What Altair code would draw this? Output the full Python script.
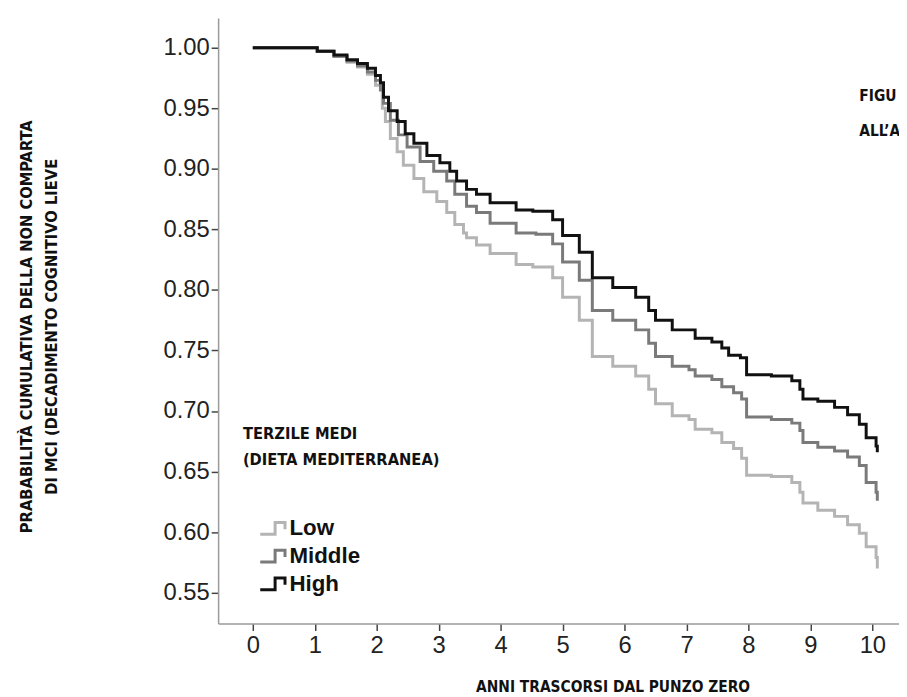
import altair as alt
import pandas as pd

# ---------------- data ----------------
groups = ["Low", "Middle", "High"]
colors = ["#b4b4b4", "#7a7a7a", "#111111"]
widths = [3, 3, 4]

high_t = [0, 0.99, 1.04, 1.31, 1.52, 1.69, 1.85, 1.98, 2.06, 2.11, 2.19, 2.33, 2.46, 2.60, 2.81,
          3.02, 3.18, 3.29, 3.45, 3.61, 3.83, 4.25, 4.52, 4.84, 5.00, 5.27, 5.48, 5.81, 6.18,
          6.39, 6.50, 6.77, 7.04, 7.14, 7.41, 7.57, 7.68, 7.87, 7.97, 8.37, 8.70, 8.83, 8.88,
          9.12, 9.39, 9.60, 9.79, 9.90, 10.06, 10.08]
high_v = [1.000, 1.000, 0.997, 0.994, 0.990, 0.987, 0.983, 0.977, 0.971, 0.959, 0.948, 0.939, 0.929,
          0.921, 0.911, 0.905, 0.898, 0.890, 0.883, 0.879, 0.872, 0.866, 0.865, 0.858, 0.845,
          0.831, 0.810, 0.802, 0.794, 0.783, 0.775, 0.767, 0.767, 0.760, 0.757, 0.752, 0.746,
          0.744, 0.730, 0.729, 0.725, 0.718, 0.710, 0.708, 0.703, 0.697, 0.689, 0.678, 0.671,
          0.666]

mid_t = [0, 0.99, 1.04, 1.31, 1.52, 1.69, 1.85, 1.98, 2.06, 2.11, 2.22, 2.35, 2.49, 2.70, 2.92,
         3.13, 3.26, 3.45, 3.61, 3.83, 4.25, 4.57, 4.84, 5.00, 5.27, 5.48, 5.81, 6.18, 6.39,
         6.50, 6.77, 7.04, 7.14, 7.41, 7.57, 7.76, 7.89, 7.97, 8.37, 8.70, 8.83, 8.88, 9.12,
         9.39, 9.60, 9.79, 9.90, 10.06, 10.08]
mid_v = [1.000, 1.000, 0.997, 0.993, 0.989, 0.985, 0.980, 0.973, 0.965, 0.954, 0.940, 0.928, 0.918,
         0.906, 0.898, 0.890, 0.879, 0.869, 0.864, 0.855, 0.847, 0.846, 0.838, 0.823, 0.808,
         0.783, 0.775, 0.767, 0.756, 0.745, 0.737, 0.734, 0.729, 0.726, 0.720, 0.715, 0.710,
         0.695, 0.693, 0.690, 0.684, 0.674, 0.670, 0.667, 0.662, 0.655, 0.641, 0.633, 0.626]

low_t = [0, 0.99, 1.04, 1.31, 1.52, 1.69, 1.85, 1.98, 2.09, 2.14, 2.22, 2.33, 2.43, 2.60, 2.76,
         2.97, 3.13, 3.26, 3.40, 3.45, 3.61, 3.83, 4.25, 4.52, 4.84, 5.00, 5.27, 5.48, 5.81,
         6.18, 6.39, 6.50, 6.77, 7.04, 7.14, 7.41, 7.57, 7.76, 7.89, 7.97, 8.37, 8.70, 8.83,
         8.88, 9.12, 9.39, 9.60, 9.79, 9.90, 10.06, 10.08]
low_v = [1.000, 1.000, 0.997, 0.993, 0.988, 0.984, 0.978, 0.969, 0.950, 0.939, 0.925, 0.914, 0.903,
         0.892, 0.881, 0.873, 0.864, 0.854, 0.847, 0.843, 0.837, 0.830, 0.821, 0.819, 0.810,
         0.794, 0.775, 0.745, 0.737, 0.729, 0.718, 0.706, 0.696, 0.693, 0.685, 0.682, 0.674,
         0.669, 0.661, 0.647, 0.646, 0.641, 0.633, 0.624, 0.618, 0.613, 0.606, 0.599, 0.588,
         0.579, 0.570]

x_ticks = [0, 1, 2, 3, 4, 5, 6, 7, 8, 9, 10]
y_ticks = [0.55, 0.60, 0.65, 0.70, 0.75, 0.80, 0.85, 0.90, 0.95, 1.00]

x_title = "ANNI TRASCORSI DAL PUNZO ZERO"
y_title = ["PRABABILITÀ CUMULATIVA DELLA NON COMPARTA", "DI MCI (DECADIMENTO COGNITIVO LIEVE"]
note_lines = ["TERZILE MEDI", "(DIETA MEDITERRANEA)"]
corner_lines = ["FIGU", "ALL’A"]

# ---------------- table ----------------
rows = []
for g, ts, vs in [("Low", low_t, low_v), ("Middle", mid_t, mid_v), ("High", high_t, high_v)]:
    for t, v in zip(ts, vs):
        rows.append({"group": g, "t": t, "v": v})
df = pd.DataFrame(rows)

COND = "Liberation Sans Narrow, DejaVu Sans Condensed, sans-serif"
SANS = "Liberation Sans, Arial, sans-serif"

x_enc = alt.X(
    "t:Q",
    scale=alt.Scale(domain=[-0.56, 10.43], nice=False, zero=False),
    axis=alt.Axis(
        values=x_ticks, format="d", grid=False,
        title=x_title, titleFont=COND, titleFontSize=15.5, titleFontWeight="bold",
        titleColor="#111", titleX=398, titleY=69, titleAlign="center",
        titleBaseline="alphabetic",
        labelFont=SANS, labelFontSize=24, labelColor="#222", labelPadding=3,
        tickSize=7, tickColor="#444", tickWidth=1.5,
        domainColor="#9a9a9a", domainWidth=1.5,
    ),
)
y_enc = alt.Y(
    "v:Q",
    scale=alt.Scale(domain=[0.5245, 1.0245], nice=False, zero=False),
    axis=alt.Axis(
        values=y_ticks, format=".2f", grid=False,
        title=y_title, titleFont=COND, titleFontSize=16.5, titleFontWeight="bold",
        titleColor="#111", titleAngle=270, titleX=-188, titleY=311,
        titleAlign="center", titleBaseline="alphabetic", titleLineHeight=25,
        labelFont=SANS, labelFontSize=24, labelColor="#222", labelPadding=2,
        tickSize=7, tickColor="#444", tickWidth=1.5,
        domainColor="#9a9a9a", domainWidth=1.5,
    ),
)

lines = alt.Chart(df).mark_line(interpolate="step-after", clip=True).encode(
    x=x_enc,
    y=y_enc,
    color=alt.Color(
        "group:N",
        scale=alt.Scale(domain=groups, range=colors),
        legend=alt.Legend(
            orient="none", legendX=41, legendY=501, title=None, padding=0,
            symbolType="M-1,0.47H0.2V-0.47H1V0.07", symbolSize=625,
            symbolStrokeWidth=3, symbolFillColor="transparent",
            labelFont=SANS, labelFontSize=22.5, labelFontWeight="bold",
            labelColor="#111", labelOffset=3, rowPadding=2,
        ),
    ),
    strokeWidth=alt.StrokeWidth(
        "group:N", scale=alt.Scale(domain=groups, range=widths), legend=None
    ),
)

def note(txt, x, y, size):
    return alt.Chart(pd.DataFrame({"txt": [txt]})).mark_text(
        font=COND, fontSize=size, fontWeight="bold", color="#111",
        align="left", baseline="alphabetic",
    ).encode(text="txt:N", x=alt.value(x), y=alt.value(y))

note1 = note(note_lines[0], 25, 425, 16.5)
note2 = note(note_lines[1], 25, 451, 16.5)
corner1 = note(corner_lines[0], 647, 84, 15.5)
corner2 = note(corner_lines[1], 647, 119, 15.5)

chart = alt.layer(lines, note1, note2, corner1, corner2).properties(
    width=687,
    height=611,
    padding={"left": 212, "top": 7, "right": 0, "bottom": 71},
    autosize=alt.AutoSizeParams(type="none"),
    background="white",
).configure_view(stroke=None)

chart.save("out.html", embed_options={"renderer": "svg", "actions": False})
